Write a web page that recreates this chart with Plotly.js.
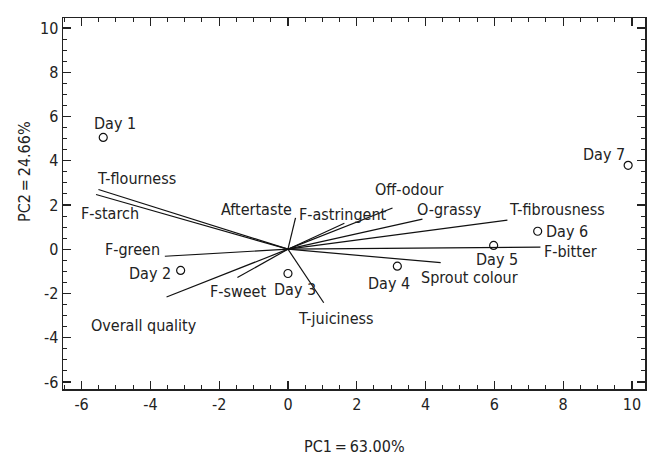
<!DOCTYPE html>
<html>
<head>
<meta charset="utf-8">
<script src="https://cdn.plot.ly/plotly-3.0.1.min.js"></script>
<style>html,body{margin:0;padding:0;background:#fff;}#chart{width:647px;height:455px;}</style>
</head>
<body>
<div id="chart"></div>
<script>
// Attribute loadings (vector end points)
var varNames = ["T-flourness","F-starch","Aftertaste","F-astringent","Off-odour","O-grassy","T-fibrousness","F-bitter","Sprout colour","T-juiciness","F-sweet","Overall quality","F-green"];
var varX = [-5.51, -5.58, 0.22, 1.64, 3.04, 3.91, 6.38, 7.34, 4.44, 1.04, -1.47, -3.53, -3.58];
var varY = [2.70, 2.47, 1.42, 1.17, 1.86, 1.36, 1.31, 0.09, -0.61, -2.42, -1.28, -2.16, -0.32];
// label anchor points for attributes
var varLabX = [-4.40, -5.18, -0.92, 1.60, 3.53, 4.69, 7.82, 8.21, 5.28, 1.41, -1.46, -4.19, -4.51];
var varLabY = [3.18, 1.60, 1.78, 1.55, 2.68, 1.78, 1.78, -0.12, -1.28, -3.15, -1.93, -3.43, -0.03];

// Sample scores
var dayNames = ["Day 1","Day 2","Day 3","Day 4","Day 5","Day 6","Day 7"];
var dayX = [-5.37, -3.12, 0.00, 3.18, 5.98, 7.26, 9.89];
var dayY = [5.05, -0.96, -1.10, -0.77, 0.17, 0.81, 3.79];
var dayLabX = [-5.03, -4.01, 0.21, 2.95, 6.07, 8.11, 9.18];
var dayLabY = [5.66, -1.12, -1.84, -1.57, -0.46, 0.78, 4.27];

// Tick labels
var xTickVals = [-6, -4, -2, 0, 2, 4, 6, 8, 10];
var xTickText = ["-6", "-4", "-2", "0", "2", "4", "6", "8", "10"];
var yTickVals = [-6, -4, -2, 0, 2, 4, 6, 8, 10];
var yTickText = ["-6", "-4", "-2", "0", "2", "4", "6", "8", "10"];

var FONT = '"Liberation Sans Narrow", "DejaVu Sans Condensed", "Arial Narrow", sans-serif';
var TXT = '#222';

var lx = [], ly = [];
for (var i = 0; i < varNames.length; i++) {
  lx.push(0, varX[i], null);
  ly.push(0, varY[i], null);
}

var traces = [
  {x: lx, y: ly, mode: 'lines', type: 'scatter', line: {color: '#111', width: 1.2}, hoverinfo: 'skip', showlegend: false},
  {x: dayX, y: dayY, text: dayNames, mode: 'markers', type: 'scatter',
   marker: {symbol: 'circle-open', size: 8, color: '#111', line: {width: 1.2, color: '#111'}}, showlegend: false}
];

var annotations = [];
for (var i = 0; i < varNames.length; i++) {
  annotations.push({x: varLabX[i], y: varLabY[i], xref: 'x', yref: 'y', text: varNames[i], showarrow: false,
    xanchor: 'center', yanchor: 'middle', font: {family: FONT, size: 16, color: TXT}});
}
for (var i = 0; i < dayNames.length; i++) {
  annotations.push({x: dayLabX[i], y: dayLabY[i], xref: 'x', yref: 'y', text: dayNames[i], showarrow: false,
    xanchor: 'center', yanchor: 'middle', font: {family: FONT, size: 16, color: TXT}});
}
annotations.push({x: 0.5, y: 0, xref: 'paper', yref: 'paper', yshift: -57, text: 'PC1\u2009=\u200963.00%', showarrow: false,
  xanchor: 'center', yanchor: 'middle', font: {family: FONT, size: 16, color: TXT}});
annotations.push({x: 0, y: 0.585, xref: 'paper', yref: 'paper', xshift: -38, text: 'PC2\u2009=\u200924.66%', showarrow: false,
  textangle: -90, xanchor: 'center', yanchor: 'middle', font: {family: FONT, size: 16, color: TXT}});

var axisCommon = {
  showgrid: false, zeroline: false, showline: true, linecolor: '#222', linewidth: 1.5,
  mirror: 'allticks', ticks: 'inside', ticklen: 8, tickwidth: 1.2, tickcolor: '#222',
  tickfont: {family: FONT, size: 16, color: TXT}, tickmode: 'array',
  minor: {ticks: 'inside', ticklen: 4, tickwidth: 1, tickcolor: '#222', tickmode: 'linear', tick0: 0, dtick: 0.5, showgrid: false}
};

var layout = {
  width: 647, height: 455,
  margin: {l: 63, r: 2, t: 18, b: 66},
  paper_bgcolor: '#fff', plot_bgcolor: '#fff',
  xaxis: Object.assign({}, axisCommon, {range: [-6.54, 10.38], tickvals: xTickVals, ticktext: xTickText}),
  yaxis: Object.assign({}, axisCommon, {range: [-6.32, 10.45], tickvals: yTickVals, ticktext: yTickText}),
  annotations: annotations,
  showlegend: false
};

Plotly.newPlot('chart', traces, layout, {displayModeBar: false, staticPlot: true});
</script>
</body>
</html>
